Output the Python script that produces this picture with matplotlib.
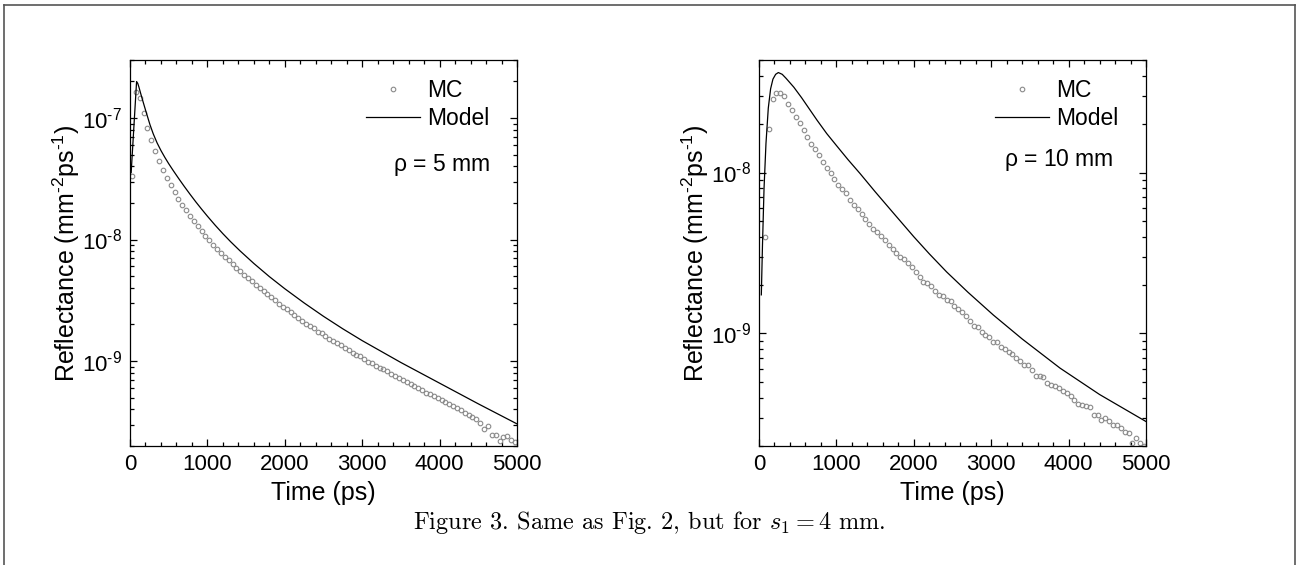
import numpy as np
import matplotlib
matplotlib.use("Agg")
import matplotlib.pyplot as plt
from matplotlib.lines import Line2D
from matplotlib.ticker import FuncFormatter, LogLocator, MultipleLocator, NullFormatter

plt.rcParams["font.family"] = ["Liberation Sans", "DejaVu Sans"]
plt.rcParams["mathtext.fontset"] = "cm"

HYPHEN = "\u2010"   # short dash in the exponents, as in the original

# --- data (reflectance stored as log10 values) -----------------------------
MC_TIME = np.arange(25, 5000, 50)          # MC time bins (ps)

MC_LEFT_LOG10 = [
    -7.480, -6.790, -6.835, -6.960, -7.080, -7.180, -7.275, -7.350, -7.430, -7.490,
    -7.550, -7.610, -7.665, -7.720, -7.760, -7.805, -7.845, -7.890, -7.930, -7.970,
    -8.006, -8.041, -8.075, -8.108, -8.140, -8.171, -8.201, -8.231, -8.260, -8.288,
    -8.316, -8.343, -8.372, -8.398, -8.425, -8.450, -8.470, -8.500, -8.528, -8.552,
    -8.572, -8.600, -8.624, -8.643, -8.668, -8.692, -8.708, -8.732, -8.758, -8.768,
    -8.796, -8.815, -8.838, -8.852, -8.872, -8.895, -8.910, -8.930, -8.950, -8.962,
    -8.985, -9.004, -9.018, -9.040, -9.055, -9.068, -9.082, -9.110, -9.125, -9.138,
    -9.155, -9.170, -9.188, -9.204, -9.225, -9.238, -9.262, -9.270, -9.285, -9.305,
    -9.322, -9.340, -9.355, -9.372, -9.390, -9.405, -9.425, -9.448, -9.460, -9.478,
    -9.510, -9.560, -9.535, -9.610, -9.605, -9.655, -9.625, -9.620, -9.650, -9.665,
]

# rho = 10 mm: the first bin (25 ps) lies below the plotted range
MC_RIGHT_LOG10 = [
    -8.400, -7.731, -7.545, -7.503, -7.503, -7.526, -7.572, -7.609, -7.655,
    -7.692, -7.737, -7.779, -7.820, -7.857, -7.893, -7.934, -7.971, -8.006, -8.042,
    -8.075, -8.104, -8.130, -8.172, -8.203, -8.228, -8.255, -8.290, -8.317, -8.348,
    -8.369, -8.395, -8.420, -8.450, -8.478, -8.500, -8.522, -8.540, -8.565, -8.590,
    -8.620, -8.650, -8.680, -8.685, -8.705, -8.735, -8.760, -8.765, -8.795, -8.800,
    -8.830, -8.850, -8.865, -8.890, -8.922, -8.955, -8.960, -8.990, -9.011, -9.020,
    -9.050, -9.052, -9.087, -9.095, -9.114, -9.130, -9.155, -9.170, -9.197, -9.197,
    -9.225, -9.265, -9.265, -9.270, -9.307, -9.318, -9.327, -9.336, -9.356, -9.370,
    -9.390, -9.415, -9.435, -9.445, -9.450, -9.456, -9.505, -9.507, -9.535, -9.522,
    -9.545, -9.570, -9.570, -9.590, -9.611, -9.620, -9.683, -9.652, -9.680, -9.700,
]

MODEL_LEFT_T = [15, 85, 100, 115, 130, 150, 175, 210, 258, 300, 350, 400, 450, 500,
                560, 630, 700, 775, 850, 925, 1000, 1100, 1200, 1300, 1421, 1600,
                1800, 2000, 2250, 2500, 2750, 3000, 3500, 4000, 4500, 5000]
MODEL_LEFT_LOG10 = [-7.45, -6.70, -6.715, -6.745, -6.78, -6.825, -6.88, -6.955, -7.055,
                    -7.13, -7.205, -7.268, -7.324, -7.376, -7.434, -7.499, -7.562,
                    -7.627, -7.69, -7.75, -7.808, -7.882, -7.952, -8.018, -8.093,
                    -8.197, -8.305, -8.405, -8.522, -8.632, -8.735, -8.832, -9.012,
                    -9.182, -9.352, -9.517]

MODEL_RIGHT_T = [30, 45, 65, 90, 120, 150, 180, 215, 250, 300, 350, 450, 550, 650,
                 750, 875, 1000, 1150, 1305, 1500, 1735, 2000, 2200, 2425, 2700,
                 3027, 3400, 3889, 4400, 5000]
MODEL_RIGHT_LOG10 = [-8.76, -8.45, -8.10, -7.82, -7.60, -7.48, -7.42, -7.39, -7.379,
                     -7.39, -7.415, -7.47, -7.535, -7.605, -7.675, -7.758, -7.832,
                     -7.92, -8.006, -8.119, -8.251, -8.399, -8.505, -8.618, -8.744,
                     -8.885, -9.034, -9.215, -9.379, -9.547]

PANELS = [
    dict(mc_t=MC_TIME, mc=MC_LEFT_LOG10, mt=MODEL_LEFT_T, model=MODEL_LEFT_LOG10,
         ylim=(2e-10, 3e-7), rho=r"$\mathregular{\rho}$ = 5 mm", rho_pos=(0.93, 0.728),
         left=130),
    dict(mc_t=MC_TIME[1:], mc=MC_RIGHT_LOG10, mt=MODEL_RIGHT_T, model=MODEL_RIGHT_LOG10,
         ylim=(2e-10, 5e-8), rho=r"$\mathregular{\rho}$ = 10 mm", rho_pos=(0.915, 0.741),
         left=759),
]

W, H = 1299, 565
fig = plt.figure(figsize=(W / 100, H / 100), dpi=100)


def make_decade_label(lo, hi):
    def fmt(v, pos):
        if not (lo <= v <= hi):
            return ""
        e = int(round(np.log10(v)))
        return r"$\mathregular{10^{%s%d}}$" % (HYPHEN if e < 0 else "", abs(e))
    return fmt


for p in PANELS:
    ax = fig.add_axes([p["left"] / W, 1 - 446 / H, 387 / W, 386 / H])
    ax.plot(p["mc_t"], 10.0 ** np.asarray(p["mc"]), linestyle="none", marker="o",
            ms=3.3, mfc="none", mec="#8a8a8a", mew=0.8, label="MC")
    ax.plot(p["mt"], 10.0 ** np.asarray(p["model"]), color="black", lw=0.9,
            label="Model")
    ax.set_yscale("log")
    ax.set_xlim(0, 5000)
    ax.set_ylim(*p["ylim"])
    ax.xaxis.set_major_locator(MultipleLocator(1000))
    ax.xaxis.set_minor_locator(MultipleLocator(200))
    ax.yaxis.set_major_locator(LogLocator(base=10))
    ax.yaxis.set_minor_locator(LogLocator(base=10, subs=np.arange(2, 10)))
    ax.yaxis.set_major_formatter(FuncFormatter(make_decade_label(*p["ylim"])))
    ax.yaxis.set_minor_formatter(NullFormatter())
    ax.tick_params(which="both", direction="in", top=True, right=True, width=0.9,
                   labelsize=16)
    ax.tick_params(which="major", length=5)
    ax.tick_params(which="minor", length=3)
    ax.tick_params(axis="x", pad=6)
    ax.tick_params(axis="y", pad=6)
    for s in ax.spines.values():
        s.set_linewidth(0.9)

    ax.set_xlabel("Time (ps)", fontsize=18)
    ax.set_ylabel(r"Reflectance (mm$\mathregular{^{%s2}}$ps$\mathregular{^{%s1}}$)"
                  % (HYPHEN, HYPHEN), fontsize=18)
    ax.xaxis.set_label_coords(0.5, -0.09)
    ax.yaxis.set_label_coords(-0.125, 0.5)

    ax.legend(loc="upper left", bbox_to_anchor=(0.61, 0.95), frameon=False,
              fontsize=16.5, borderpad=0, borderaxespad=0, handlelength=2.35,
              handletextpad=0.3, labelspacing=0.2)
    ax.text(*p["rho_pos"], p["rho"], transform=ax.transAxes, ha="right",
            va="center", fontsize=16.5)

fig.text(0.5, 1 - 523 / H, r"Figure 3. Same as Fig. 2, but for $s_1 = 4$ mm.",
         ha="center", va="center", family="cmr10", fontsize=17.5)

# thin frame around the page, as in the scanned figure
frame = dict(color="#555555", lw=1.2, transform=fig.transFigure, clip_on=False)
x0, x1, y1 = 4 / W, 1 - 4 / W, 1 - 5 / H
fig.add_artist(Line2D([x0, x1], [y1, y1], **frame))
fig.add_artist(Line2D([x0, x0], [0, y1], **frame))
fig.add_artist(Line2D([x1, x1], [0, y1], **frame))

fig.savefig("out.png", dpi=100)
